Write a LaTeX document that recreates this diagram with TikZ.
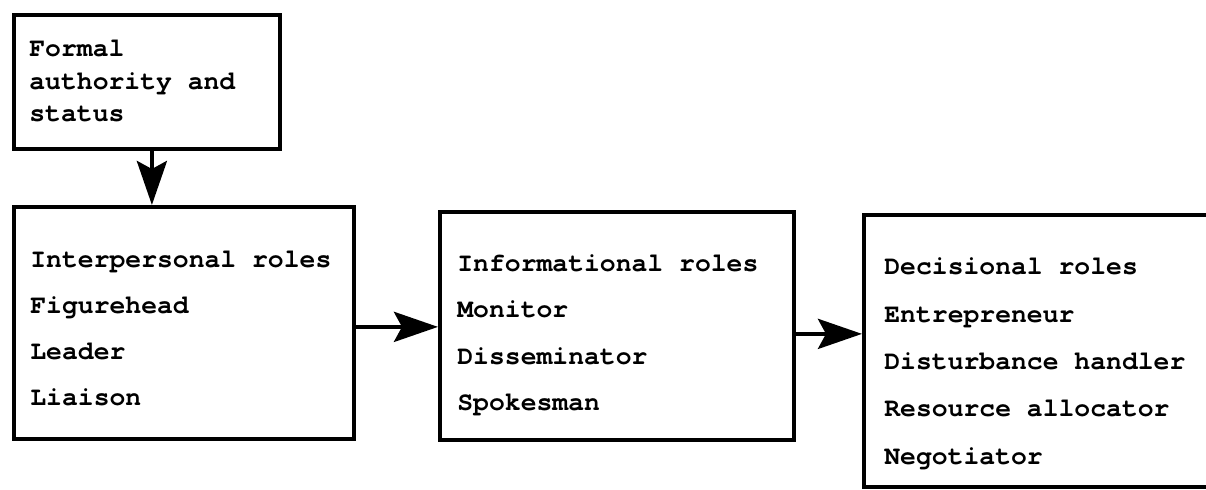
\documentclass[tikz,border=0pt]{standalone}
\usepackage{fontspec}
\usepackage{tikz}
\newfontfamily\typefont{TeX Gyre Cursor}
\usetikzlibrary{arrows.meta, positioning, calc}

\begin{document}
\begin{tikzpicture}[
  x=0.5pt, y=-0.5pt,
  rolebox/.style={draw, line width=1.9pt, rectangle, anchor=north west, inner sep=0pt},
  rolename/.style={anchor=base west, inner sep=0pt, font=\typefont\bfseries\fontsize{13.2pt}{15pt}\selectfont},
  flow/.style={line width=2.2pt, -{Stealth[length=22pt, width=15pt, inset=4pt]}},
]
\useasboundingbox (0,0) rectangle (1206,490);
\clip (0,0) rectangle (1206,490);

% boxes
\node[rolebox, minimum width=133pt, minimum height=67pt] (formal) at (12,13) {};
\node[rolebox, minimum width=170pt, minimum height=116pt] (inter) at (12,205) {};
\node[rolebox, minimum width=177pt, minimum height=114pt] (info) at (438,210) {};
\node[rolebox, minimum width=190pt, minimum height=136pt] (dec) at (862,213) {};

% formal authority
\node[rolename] (f1) at (29,57) {Formal};
\node[rolename] (f2) at (29,90) {authority and};
\node[rolename] (f3) at (29,122) {status};

% interpersonal roles
\node[rolename] (i1) at (30,268) {Interpersonal roles};
\node[rolename] (i2) at (30,314) {Figurehead};
\node[rolename] (i3) at (30,360) {Leader};
\node[rolename] (i4) at (30,406) {Liaison};

% informational roles
\node[rolename] (n1) at (457,272) {Informational roles};
\node[rolename] (n2) at (457,318) {Monitor};
\node[rolename] (n3) at (457,365) {Disseminator};
\node[rolename] (n4) at (457,411) {Spokesman};

% decisional roles
\node[rolename] (d1) at (884,275) {Decisional roles};
\node[rolename] (d2) at (884,323) {Entrepreneur};
\node[rolename] (d3) at (884,370) {Disturbance handler};
\node[rolename] (d4) at (884,417) {Resource allocator};
\node[rolename] (d5) at (884,465) {Negotiator};

% arrows
\draw[flow] ([xshift=2.5pt]formal.south) -- ([xshift=2.5pt]formal.south |- inter.north);
\draw[flow] ([yshift=-2pt]inter.east) -- ([yshift=-2pt]inter.east -| info.west);
\draw[flow] ([yshift=-4pt]info.east) -- ([yshift=-4pt]info.east -| dec.west);

\end{tikzpicture}
\end{document}
